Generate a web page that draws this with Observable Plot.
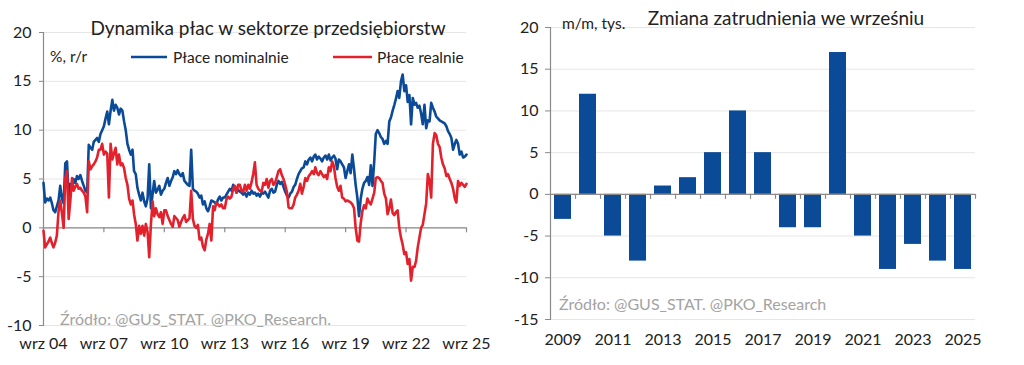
<!DOCTYPE html>
<html><head><meta charset="utf-8">
<script src="https://cdn.jsdelivr.net/npm/d3@7"></script>
<script src="https://cdn.jsdelivr.net/npm/@observablehq/plot@0.6"></script>
<style>
body{margin:0;background:#fff;}
#wrap{position:relative;width:1024px;height:365px;overflow:hidden;font-family:Lato,sans-serif;}
#wrap > svg{position:absolute;top:0;}
</style></head><body><div id="wrap"></div>
<script>
// ---- Left chart: wage growth, % y/y, monthly from Sep 2004 ----
const wageStart = {year: 2004, month: 9};
const nominalWages = [
 4.6,2.6,3.0,2.8,3.1,2.5,1.8,1.6,2.2,2.8,4.3,3.0,
 2.5,6.6,6.8,3.2,4.5,4.0,5.0,4.6,5.3,5.0,5.4,4.8,
 4.3,3.8,3.6,8.5,8.2,8.0,8.8,9.0,9.2,8.8,9.6,10.0,
 10.4,11.2,11.9,10.6,12.0,13.1,12.0,12.6,12.3,11.6,12.2,12.0,
 10.9,10.0,8.6,8.0,7.5,8.0,5.8,5.5,4.1,3.4,2.8,3.6,
 2.7,2.2,3.0,6.5,2.0,3.5,4.8,3.6,3.9,4.3,3.4,3.8,
 4.0,4.6,5.1,4.3,4.8,5.2,5.8,5.5,5.9,5.5,5.3,5.6,
 4.8,4.6,4.4,4.3,8.0,4.0,3.8,3.7,3.5,3.1,3.3,2.4,
 2.7,2.0,1.7,2.2,2.8,2.7,2.6,2.4,2.9,3.2,2.8,3.1,
 3.1,3.4,3.7,4.0,3.8,4.4,4.1,3.6,3.9,3.7,3.6,3.4,
 3.6,3.2,3.6,3.4,3.8,3.5,3.6,3.3,3.5,3.2,3.6,3.5,
 3.7,3.4,3.1,3.8,4.0,3.6,3.7,4.4,4.8,4.5,4.7,4.2,
 3.7,3.3,3.1,3.5,3.7,4.2,4.4,5.0,5.5,5.8,6.1,6.2,
 6.8,6.5,7.0,7.2,6.8,7.3,7.5,7.0,7.3,7.1,6.8,7.2,
 7.4,7.0,7.5,6.9,7.2,7.4,7.1,6.0,7.0,6.8,6.5,6.2,
 5.1,5.8,6.5,5.6,7.5,6.0,4.4,3.1,1.2,3.0,4.0,4.6,
 4.8,5.2,4.4,6.4,4.3,6.8,9.6,10.0,9.7,9.3,9.1,8.6,
 8.9,8.6,10.9,11.3,12.0,12.6,13.2,14.0,13.3,15.0,15.7,14.0,
 14.6,12.9,13.6,10.6,13.3,12.6,12.8,12.3,12.5,11.7,10.6,12.6,
 10.2,11.0,10.9,12.8,12.3,11.9,11.4,11.2,11.0,10.9,10.8,10.7,
 10.4,9.9,9.6,9.2,8.0,8.6,9.0,8.6,7.5,7.8,7.2,7.3,7.5
];
const realWages = [
 -0.3,-2.0,-1.7,-1.4,-1.0,-1.6,-2.0,-1.5,-0.8,1.7,2.8,1.5,
 0.0,5.1,5.8,0.9,2.8,5.1,3.8,4.2,4.5,4.0,4.1,3.8,
 3.6,3.2,1.6,6.8,6.0,6.3,6.5,6.8,7.2,8.0,8.0,8.6,
 7.5,7.8,7.6,3.1,8.6,7.0,7.6,8.2,6.5,7.5,6.4,6.6,
 6.1,5.1,4.4,3.0,2.4,2.8,1.4,0.4,-1.3,0.2,-0.6,0.2,
 -0.8,0.4,-0.4,-3.0,0.4,2.7,1.2,2.0,1.4,1.1,1.6,0.4,
 1.8,1.8,1.2,0.8,0.4,0.1,1.2,1.0,0.8,0.1,0.6,1.0,
 1.3,0.6,0.8,1.0,3.8,0.9,0.2,0.0,0.3,-1.2,-1.0,-1.9,
 -2.3,-1.2,-0.6,0.4,-1.3,2.2,1.8,2.6,2.4,2.2,2.4,2.0,
 2.0,2.9,3.2,3.0,3.2,4.0,4.3,3.6,4.4,4.4,3.8,3.7,
 4.4,3.8,4.4,4.0,4.7,5.6,6.7,4.4,4.0,3.8,3.7,4.6,
 4.4,5.0,4.1,4.8,5.0,4.4,4.6,5.2,5.8,6.0,5.4,5.0,
 4.4,3.7,2.1,2.0,2.0,2.4,3.1,3.4,3.8,4.5,3.5,4.2,
 5.1,4.8,5.3,5.5,5.8,5.5,6.2,5.6,5.4,5.8,5.5,5.2,
 5.4,5.0,6.2,5.8,6.8,6.3,5.1,4.2,3.8,4.3,3.1,3.0,
 2.7,2.8,2.7,2.6,2.4,2.0,0.0,-1.3,-1.4,0.5,1.7,2.3,
 2.0,3.0,2.6,2.4,3.0,3.6,5.1,5.2,5.1,4.8,4.6,3.5,
 3.0,1.4,2.0,2.9,1.5,1.3,1.6,1.8,0.0,-1.0,-1.7,-2.7,
 -2.5,-3.7,-3.2,-5.4,-4.0,-4.0,-3.4,-2.0,-1.0,0.0,0.3,1.4,
 2.5,5.5,4.8,3.1,8.6,9.7,9.5,8.6,8.3,7.2,6.5,6.1,
 5.3,5.5,5.0,4.6,4.0,3.0,2.6,4.8,4.3,4.6,4.4,4.2,4.5
];
const wageTickYears = [2004, 2007, 2010, 2013, 2016, 2019, 2022, 2025];
const wageYTicks = [-10, -5, 0, 5, 10, 15, 20];
const wageTitle = "Dynamika płac w sektorze przedsiębiorstw";
const wageUnit = "%, r/r";
const seriesNames = ["Płace nominalnie", "Płace realnie"];

// ---- Right chart: employment change in September, m/m thousands ----
const empYears = [2009,2010,2011,2012,2013,2014,2015,2016,2017,2018,2019,2020,2021,2022,2023,2024,2025];
const empChange = [-3,12,-5,-8,1,2,5,10,5,-4,-4,17,-5,-9,-6,-8,-9];
const empLabelYears = [2009,2011,2013,2015,2017,2019,2021,2023,2025];
const empYTicks = [-15, -10, -5, 0, 5, 10, 15, 20];
const empTitle = "Zmiana zatrudnienia we wrześniu";
const empUnit = "m/m, tys.";
const sourceLeft = "Źródło: @GUS_STAT. @PKO_Research.";
const sourceRight = "Źródło: @GUS_STAT. @PKO_Research";

const BLUE = "#0b4a97", RED = "#e3212d", AXIS = "#8a8a8a", TXT = "#222", SRC = "#a3a3a3";
const FONT = "Lato, sans-serif";

const monthDate = i => new Date(Date.UTC(wageStart.year, wageStart.month - 1 + i, 1));
const wageRows = nominalWages.map((v, i) => ({date: monthDate(i), nominal: v, real: realWages[i]}));
const wageTicks = wageTickYears.map(y => new Date(Date.UTC(y, 8, 1)));

const wrap = document.getElementById("wrap");

const left = Plot.plot({
  width: 490, height: 365,
  marginLeft: 43, marginRight: 24, marginTop: 32, marginBottom: 40,
  style: {fontFamily: FONT, color: TXT, background: "transparent", overflow: "visible"},
  x: {type: "utc", domain: [monthDate(0), wageTicks[wageTicks.length - 1]]},
  y: {domain: [-10, 20]},
  marks: [
    Plot.gridY(wageYTicks, {stroke: "#e6e6e6", strokeOpacity: 1}),
    Plot.ruleY([0], {stroke: AXIS, strokeWidth: 1.2}),
    Plot.ruleX(wageTicks, {x: d => d, y1: 0, y2: 0, insetBottom: -5, stroke: AXIS, strokeWidth: 1.2}),
    Plot.frame({anchor: "left", stroke: AXIS, strokeWidth: 1.2}),
    Plot.axisY({ticks: wageYTicks, tickSize: 4, tickPadding: 8, stroke: AXIS, fontSize: 16, label: null,
      tickFormat: d => String(d)}),
    Plot.axisX({ticks: wageTicks, tickSize: 0, tickPadding: 12, fontSize: 16, label: null,
      tickFormat: d => "wrz " + String(d.getUTCFullYear()).slice(2)}),
    Plot.line(wageRows, {x: "date", y: "nominal", stroke: BLUE, strokeWidth: 2.6}),
    Plot.line(wageRows, {x: "date", y: "real", stroke: RED, strokeWidth: 2.6})
  ]
});
left.style.left = "0px";
wrap.appendChild(left);

const empRows = empYears.map((y, i) => ({year: y, value: empChange[i]}));
const right = Plot.plot({
  width: 490, height: 365,
  marginLeft: 38, marginRight: 27, marginTop: 27, marginBottom: 46,
  style: {fontFamily: FONT, color: TXT, background: "transparent", overflow: "visible"},
  x: {type: "band", domain: empYears, paddingInner: 0.33, paddingOuter: 0.165},
  y: {domain: [-15, 20]},
  marks: [
    Plot.gridY(empYTicks, {stroke: "#e6e6e6", strokeOpacity: 1}),
    Plot.barY(empRows, {x: "year", y: "value", fill: BLUE}),
    Plot.ruleY([0], {stroke: AXIS, strokeWidth: 1.2}),
    Plot.ruleX(empYears, {x: d => d, y1: 0, y2: 0, insetBottom: -5, dx: 12.5, stroke: AXIS, strokeWidth: 1.2}),
    Plot.frame({anchor: "left", stroke: AXIS, strokeWidth: 1.2}),
    Plot.axisY({ticks: empYTicks, tickSize: 5, tickPadding: 7, stroke: AXIS, fontSize: 16, label: null,
      tickFormat: d => String(d)}),
    Plot.axisX({ticks: empLabelYears, tickSize: 0, tickPadding: 14, fontSize: 16, label: null, tickFormat: d => String(d)})
  ]
});
right.style.left = "512px";
wrap.appendChild(right);

// ---- Overlay texts (titles, units, legend, sources) ----
const ov = d3.select(wrap).append("svg")
  .attr("width", 1024).attr("height", 365)
  .style("position", "absolute").style("left", "0px").style("top", "0px")
  .attr("font-family", FONT);

function txt(x, y, s, size, fill, anchor = "start") {
  ov.append("text").attr("x", x).attr("y", y).attr("font-size", size)
    .attr("fill", fill).attr("text-anchor", anchor).text(s);
}
txt(268, 34.5, wageTitle, 19, TXT, "middle");
txt(50, 62, wageUnit, 15.5, TXT);
ov.append("line").attr("x1", 131).attr("x2", 167).attr("y1", 57).attr("y2", 57).attr("stroke", BLUE).attr("stroke-width", 2.6);
txt(173, 62.5, seriesNames[0], 15.5, TXT);
ov.append("line").attr("x1", 333).attr("x2", 372).attr("y1", 57).attr("y2", 57).attr("stroke", RED).attr("stroke-width", 2.6);
txt(377, 62.5, seriesNames[1], 15.5, TXT);
txt(60, 324.5, sourceLeft, 16, SRC);

txt(786, 25, empTitle, 19, TXT, "middle");
txt(562, 29, empUnit, 15.5, TXT);
txt(559, 309.5, sourceRight, 16, SRC);
</script></body></html>
